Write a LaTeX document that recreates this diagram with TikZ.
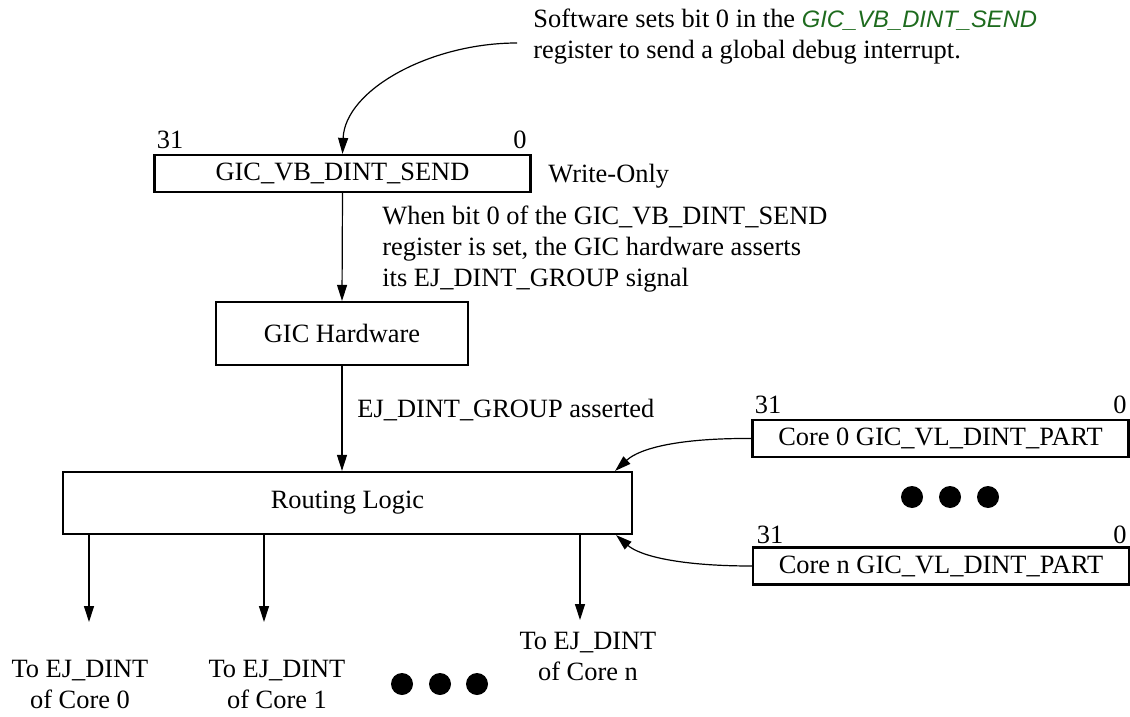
\documentclass[tikz,border=0pt]{standalone}
\usepackage{fontspec}
\setmainfont{Liberation Serif}
\newfontfamily\notesans{Liberation Sans}
\usepackage{xcolor}
\definecolor{regGreen}{HTML}{1E6B1E}
\usetikzlibrary{arrows.meta,calc}

\begin{document}
\begin{tikzpicture}[x=0.5pt, y=-0.5pt,
    every node/.style={font=\fontsize{13.2}{15.5}\selectfont, inner sep=0pt},
    reg/.style={draw, line width=1.1pt, minimum width=188pt, minimum height=18.5pt},
    blk/.style={draw, line width=1.1pt},
    txt/.style={align=left, anchor=west},
    lbl/.style={align=center},
    arr/.style={-{Triangle[length=8pt, width=5pt]}, line width=0.6pt},
    dot/.style={circle, fill=black, minimum size=11pt}]
  \useasboundingbox (0,0) rectangle (1130,717);
  % software write
  \node[txt] (swnote) at (533,37) {Software sets bit 0 in the
      {\notesans\fontsize{11.9}{15.5}\selectfont\itshape\color{regGreen}GIC\_VB\_DINT\_SEND}\\
      register to send a global debug interrupt.};
  \coordinate (swin) at (517,43);
  % send register
  \node[reg] (vbreg) at (342.5,173.5) {GIC\_VB\_DINT\_SEND};
  \node (vbhi) at (170,140) {31};
  \node (vblo) at (520,140) {0};
  \node[txt] (wo) at (548,176) {Write-Only};
  \node[txt] (hwnote) at (382,249) {When bit 0 of the GIC\_VB\_DINT\_SEND\\
      register is set, the GIC hardware asserts\\
      its EJ\_DINT\_GROUP signal};
  \node[blk, minimum width=126pt, minimum height=31.5pt] (hw) at (342,333.5) {GIC Hardware};
  \node[txt] (grp) at (357,410) {EJ\_DINT\_GROUP asserted};
  \node[blk, minimum width=284.5pt, minimum height=31pt] (route) at (347.5,503) {Routing Logic};
  % per-core partition registers
  \node[reg] (part0) at (940.5,438.5) {Core 0 GIC\_VL\_DINT\_PART};
  \node (p0hi) at (768,405) {31};
  \node (p0lo) at (1120,405) {0};
  \node[dot] (rd1) at (912,497) {};
  \node[dot] (rd2) at (950,497) {};
  \node[dot] (rd3) at (988,497) {};
  \node[reg] (partn) at (941,566) {Core n GIC\_VL\_DINT\_PART};
  \node (pnhi) at (770,535) {31};
  \node (pnlo) at (1120,535) {0};
  % outputs
  \coordinate (out0) at (89,622);
  \coordinate (out1) at (264,622);
  \coordinate (outn) at (580,620);
  \node[lbl] (to0) at (80,684) {To EJ\_DINT\\of Core 0};
  \node[lbl] (to1) at (277,684) {To EJ\_DINT\\of Core 1};
  \node[lbl] (ton) at (588,656) {To EJ\_DINT\\of Core n};
  \node[dot] (bd1) at (402,684) {};
  \node[dot] (bd2) at (440,684) {};
  \node[dot] (bd3) at (477,684) {};
  % connectors
  \draw[arr] (swin) .. controls (430,43) and (345,90) .. (vbreg.north);
  \draw[arr] (vbreg.south) -- (hw.north);
  \draw[arr] (hw.south) -- (hw.south |- route.north);
  \draw[arr] (part0.west) .. controls (680,438) and (640,448) .. ($(route.north east)+(-18,0)$);
  \draw[arr] (partn.west) .. controls (680,566) and (640,556) .. ($(route.south east)+(-17,0)$);
  \draw[arr] (out0 |- route.south) -- (out0);
  \draw[arr] (out1 |- route.south) -- (out1);
  \draw[arr] (outn |- route.south) -- (outn);
\end{tikzpicture}
\end{document}
